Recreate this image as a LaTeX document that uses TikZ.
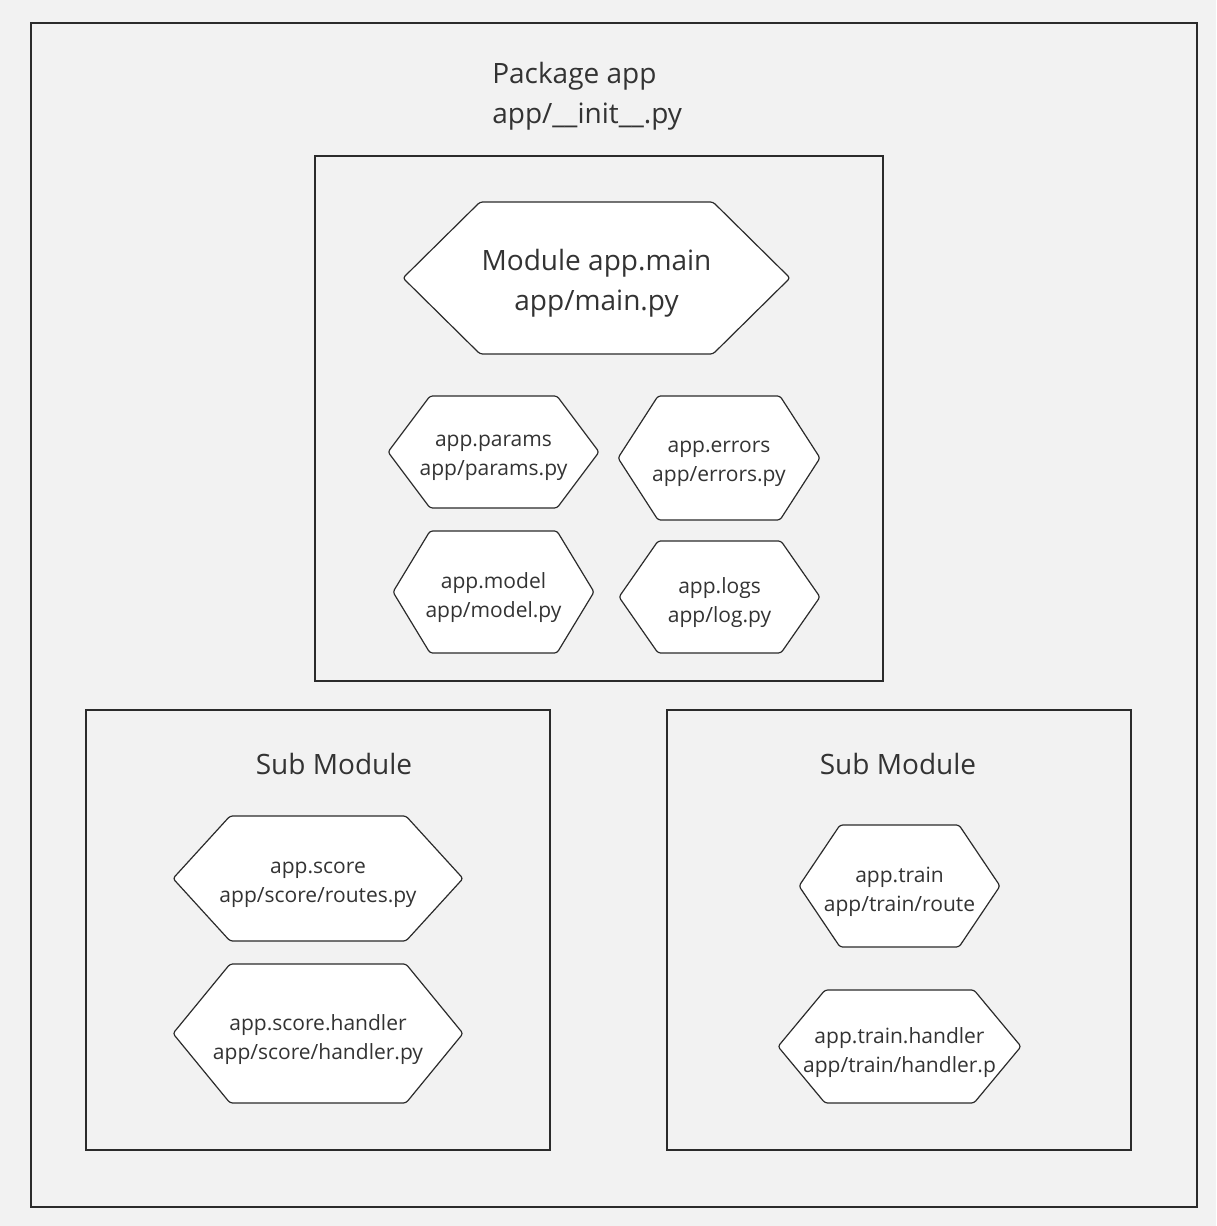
\documentclass[tikz,border=0pt]{standalone}
\usepackage{fontspec}
\setmainfont{Open Sans}
\definecolor{bg}{HTML}{F2F2F2}
\definecolor{ln}{HTML}{2B2B2B}
\definecolor{tx}{HTML}{333333}
\tikzset{
  frame/.style={draw=ln, line width=1pt},
  hexline/.style={draw=ln, fill=white, line width=0.9pt, rounded corners=2pt},
  bigtext/.style={text=tx, align=center, font=\fontsize{21}{30}\selectfont, inner sep=0pt, yshift=-3.75pt},
  smalltext/.style={text=tx, align=center, font=\fontsize{15.75}{21.75}\selectfont, inner sep=0pt, yshift=-4.5pt},
  titletext/.style={text=tx, font=\fontsize{21}{30}\selectfont, inner sep=0pt},
}
% \hexnode{name}{x1}{y1}{x2}{y2}{inset}{style}{text}
\newcommand{\hexnode}[8]{%
  \path[hexline] (#2,{(#3+#5)/2}) -- ({#2+#6},#3) -- ({#4-#6},#3) -- (#4,{(#3+#5)/2})
     -- ({#4-#6},#5) -- ({#2+#6},#5) -- cycle;
  \node[#7] (#1) at ({(#2+#4)/2},{(#3+#5)/2}) {#8};%
}
\begin{document}
\begin{tikzpicture}[x=0.75pt,y=-0.75pt]
  \path[fill=bg, use as bounding box] (0,0) rectangle (1216,1226);
  % outer package
  \draw[frame] (31,23) rectangle (1197,1207);
  \node[titletext, align=left, anchor=west, yshift=-2.25pt] (pkg) at (492,93) {Package app\\app/\_\_init\_\_.py};
  % main module box
  \draw[frame] (315,156) rectangle (883,681);
  \hexnode{main}{403}{202}{790}{354}{77}{bigtext}{Module app.main\\app/main.py}
  \hexnode{params}{388}{396}{599}{508}{42}{smalltext}{app.params\\app/params.py}
  \hexnode{errors}{618}{396}{820}{520}{40}{smalltext}{app.errors\\app/errors.py}
  \hexnode{model}{393}{531}{594}{653}{37}{smalltext}{app.model\\app/model.py}
  \hexnode{logs}{619}{541}{820}{653}{39}{smalltext}{app.logs\\app/log.py}
  % left sub module
  \draw[frame] (86,710) rectangle (550,1150);
  \node[titletext] (subl) at (334,764) {Sub Module};
  \hexnode{score}{173}{816}{463}{941}{57}{smalltext}{app.score\\app/score/routes.py}
  \hexnode{scoreh}{173}{964}{463}{1103}{57}{smalltext}{app.score.handler\\app/score/handler.py}
  % right sub module
  \draw[frame] (667,710) rectangle (1131,1150);
  \node[titletext] (subr) at (898,764) {Sub Module};
  \hexnode{train}{799}{825}{1000}{947}{41}{smalltext}{app.train\\app/train/route}
  \hexnode{trainh}{778}{990}{1021}{1103}{47}{smalltext}{app.train.handler\\app/train/handler.p}
\end{tikzpicture}
\end{document}
